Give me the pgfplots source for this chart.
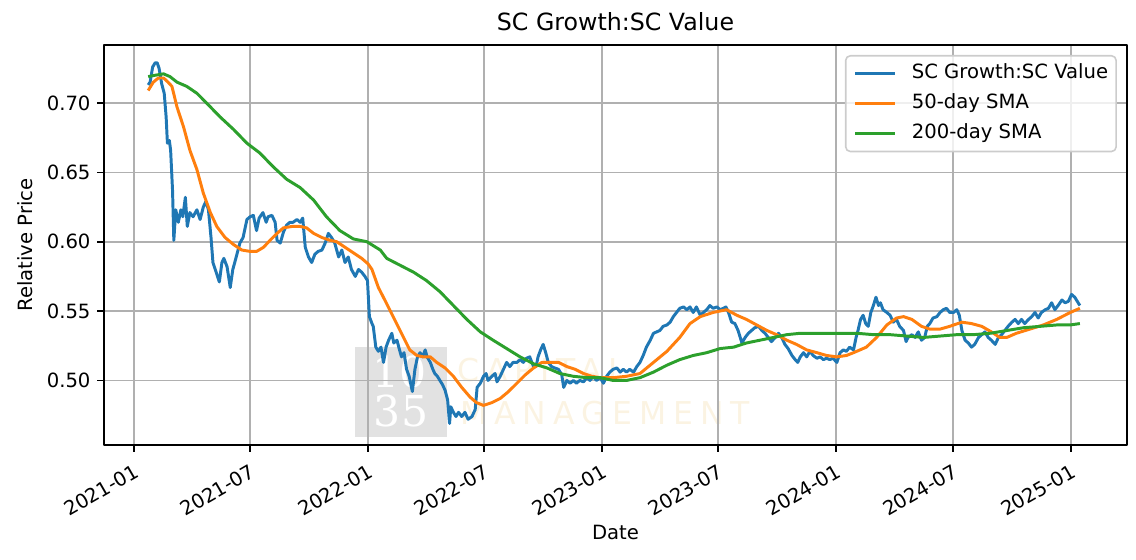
\documentclass[border=0pt]{standalone}
\usepackage{fontspec}
\setmainfont{DejaVu Sans}
\newfontfamily\wmserif{DejaVu Serif}
\usepackage{pgfplots}
\pgfplotsset{compat=1.18}
\usepackage{pgfplotstable}

\definecolor{mplblue}{HTML}{1F77B4}
\definecolor{mplorange}{HTML}{FF7F0E}
\definecolor{mplgreen}{HTML}{2CA02C}
\definecolor{gridgray}{HTML}{B0B0B0}
\definecolor{leggray}{HTML}{CCCCCC}
\definecolor{wmgray}{HTML}{E2E2E2}
\definecolor{wmbeige}{HTML}{FBF3E2}

% x = days since 2021-01-01
\pgfplotstableread{
x y
22 0.713
25 0.715
29 0.726
33 0.729
36 0.729
39 0.725
43 0.714
47 0.707
50 0.690
52 0.671
55 0.673
57 0.666
60 0.637
62 0.601
65 0.623
69 0.614
73 0.623
76 0.618
80 0.632
83 0.611
87 0.621
92 0.618
98 0.623
103 0.616
108 0.625
112 0.629
116 0.623
120 0.603
123 0.585
128 0.578
133 0.571
137 0.585
140 0.588
145 0.582
150 0.567
154 0.580
157 0.585
161 0.592
165 0.599
170 0.603
176 0.616
181 0.618
186 0.619
191 0.608
195 0.617
201 0.621
206 0.614
209 0.618
215 0.619
220 0.614
223 0.601
228 0.599
233 0.607
238 0.612
243 0.614
248 0.614
254 0.616
259 0.614
263 0.617
267 0.596
272 0.589
277 0.585
282 0.591
287 0.593
293 0.594
298 0.599
303 0.606
308 0.603
313 0.599
319 0.589
324 0.594
329 0.585
334 0.589
339 0.580
345 0.575
350 0.580
355 0.578
360 0.575
364 0.572
367 0.546
371 0.541
373 0.539
377 0.524
381 0.521
385 0.524
389 0.513
393 0.524
397 0.529
402 0.534
405 0.527
410 0.529
414 0.522
417 0.517
421 0.520
425 0.508
429 0.503
434 0.492
438 0.508
442 0.517
446 0.520
450 0.517
454 0.522
457 0.517
462 0.513
466 0.508
469 0.505
473 0.503
477 0.500
481 0.497
485 0.493
489 0.486
492 0.469
494 0.481
498 0.477
502 0.474
506 0.477
511 0.474
516 0.477
521 0.472
527 0.474
532 0.479
535 0.495
540 0.498
545 0.503
549 0.505
552 0.500
558 0.503
563 0.505
566 0.499
571 0.503
576 0.508
581 0.513
586 0.510
591 0.513
597 0.513
602 0.515
607 0.513
612 0.516
617 0.517
623 0.510
627 0.510
630 0.517
634 0.522
638 0.526
642 0.520
646 0.513
651 0.510
656 0.509
662 0.508
667 0.504
670 0.495
675 0.500
680 0.498
685 0.500
690 0.498
695 0.500
701 0.499
706 0.502
711 0.500
716 0.503
721 0.500
727 0.502
732 0.498
737 0.503
742 0.506
747 0.508
753 0.509
758 0.506
763 0.508
768 0.506
773 0.508
779 0.506
784 0.510
789 0.513
794 0.518
799 0.524
805 0.529
810 0.534
815 0.535
820 0.536
825 0.539
831 0.540
836 0.542
841 0.546
846 0.549
851 0.552
857 0.553
862 0.551
867 0.553
872 0.549
877 0.553
883 0.547
888 0.549
893 0.551
898 0.554
903 0.552
909 0.553
914 0.551
919 0.552
923 0.553
927 0.549
932 0.542
937 0.541
942 0.536
948 0.527
953 0.531
958 0.534
963 0.536
968 0.538
974 0.539
979 0.536
984 0.534
989 0.531
994 0.528
1000 0.531
1005 0.534
1010 0.531
1015 0.526
1020 0.523
1026 0.518
1031 0.515
1035 0.513
1039 0.517
1044 0.520
1049 0.517
1054 0.521
1059 0.518
1065 0.516
1070 0.517
1075 0.515
1080 0.516
1085 0.515
1090 0.516
1096 0.513
1101 0.520
1106 0.522
1111 0.521
1116 0.524
1122 0.522
1126 0.531
1129 0.536
1133 0.544
1137 0.547
1141 0.541
1145 0.539
1149 0.549
1153 0.554
1157 0.560
1161 0.554
1164 0.556
1168 0.551
1174 0.549
1179 0.547
1184 0.542
1189 0.544
1194 0.539
1200 0.536
1204 0.528
1207 0.531
1213 0.533
1218 0.531
1223 0.535
1228 0.529
1233 0.531
1237 0.539
1241 0.541
1246 0.545
1252 0.546
1257 0.549
1262 0.551
1267 0.552
1272 0.549
1278 0.549
1283 0.551
1287 0.547
1291 0.536
1296 0.529
1301 0.527
1306 0.524
1311 0.526
1317 0.531
1322 0.533
1327 0.535
1332 0.531
1337 0.529
1343 0.526
1348 0.531
1353 0.533
1358 0.536
1363 0.539
1369 0.542
1374 0.544
1379 0.541
1384 0.544
1389 0.541
1395 0.544
1400 0.546
1405 0.549
1410 0.545
1415 0.549
1421 0.551
1426 0.552
1431 0.556
1436 0.551
1441 0.554
1447 0.558
1452 0.556
1457 0.557
1462 0.562
1467 0.560
1471 0.557
1475 0.554
}\ratio

\pgfplotstableread{
x y
22 0.709
30 0.715
38 0.718
46 0.718
53 0.715
59 0.712
67 0.697
77 0.683
87 0.666
98 0.652
108 0.635
119 0.621
129 0.611
142 0.603
155 0.598
168 0.594
181 0.593
191 0.593
202 0.596
212 0.601
223 0.606
233 0.610
246 0.611
259 0.611
269 0.610
280 0.606
293 0.603
306 0.601
316 0.600
329 0.596
342 0.592
355 0.588
365 0.584
371 0.580
381 0.567
391 0.558
404 0.546
417 0.534
430 0.522
441 0.518
451 0.517
462 0.517
472 0.513
485 0.509
498 0.503
511 0.495
524 0.488
534 0.484
545 0.482
558 0.484
571 0.487
584 0.492
597 0.498
610 0.504
623 0.509
636 0.513
649 0.513
662 0.513
675 0.510
688 0.508
701 0.505
714 0.503
727 0.502
747 0.502
768 0.503
789 0.505
810 0.513
831 0.521
851 0.531
867 0.541
883 0.546
903 0.549
924 0.551
940 0.547
955 0.544
971 0.540
987 0.536
1002 0.533
1018 0.529
1033 0.526
1049 0.522
1065 0.520
1080 0.518
1096 0.517
1111 0.518
1122 0.520
1142 0.524
1158 0.531
1174 0.540
1189 0.545
1200 0.546
1213 0.544
1228 0.539
1241 0.537
1257 0.537
1272 0.539
1291 0.542
1306 0.541
1322 0.539
1337 0.535
1350 0.531
1361 0.531
1376 0.534
1397 0.537
1418 0.540
1439 0.544
1460 0.549
1475 0.552
}\smafifty

\pgfplotstableread{
x y
22 0.719
33 0.720
46 0.721
56 0.719
67 0.715
82 0.712
98 0.707
113 0.700
134 0.690
155 0.681
176 0.671
196 0.664
217 0.654
238 0.645
259 0.639
280 0.630
300 0.618
321 0.608
342 0.602
363 0.600
384 0.594
394 0.588
415 0.583
436 0.578
456 0.572
477 0.564
498 0.554
519 0.544
540 0.535
560 0.529
581 0.523
602 0.517
623 0.512
644 0.509
664 0.505
685 0.503
706 0.502
727 0.502
747 0.500
768 0.500
789 0.502
810 0.506
831 0.511
851 0.515
872 0.518
893 0.520
914 0.523
935 0.524
955 0.527
976 0.529
997 0.531
1018 0.533
1039 0.534
1059 0.534
1080 0.534
1101 0.534
1127 0.534
1153 0.533
1179 0.533
1205 0.532
1231 0.531
1257 0.532
1283 0.533
1309 0.533
1335 0.534
1361 0.536
1387 0.538
1413 0.539
1439 0.540
1460 0.540
1475 0.541
}\smatwohundred

\begin{document}
\begin{tikzpicture}
% watermark (behind the axis)
\fill[wmgray] (135.5pt,4.3pt) rectangle (185.2pt,52.9pt);
\node[text=white, inner sep=0pt, font=\wmserif\fontsize{23}{23}\selectfont] at (159.8pt,39.4pt) {10};
\node[text=white, inner sep=0pt, font=\wmserif\fontsize{23}{23}\selectfont] at (160.4pt,18.4pt) {35};
\node[anchor=west, inner sep=0pt, text=wmbeige, font=\fontsize{17}{17}\selectfont\addfontfeature{LetterSpace=22}] at (190.6pt,40.5pt) {CAPITAL};
\node[anchor=west, inner sep=0pt, text=wmbeige, font=\fontsize{17}{17}\selectfont\addfontfeature{LetterSpace=22}] at (192.2pt,17.3pt) {MANAGEMENT};

\begin{axis}[
  at={(0pt,0pt)}, anchor=south west,
  width=552.4pt, height=216pt, scale only axis,
  xmin=-46.8, xmax=1548.4, ymin=0.4535, ymax=0.7418,
  xtick={0,181,365,546,730,911,1095,1277,1461},
  xticklabels={2021-01,2021-07,2022-01,2022-07,2023-01,2023-07,2024-01,2024-07,2025-01},
  xticklabel style={rotate=30, anchor=north east, font=\fontsize{10.6}{12.7}\selectfont, yshift=-1.5pt},
  ytick={0.50,0.55,0.60,0.65,0.70},
  scaled y ticks=false,
  yticklabel style={/pgf/number format/fixed, /pgf/number format/fixed zerofill, /pgf/number format/precision=2, font=\fontsize{10.6}{12.7}\selectfont},
  /pgf/number format/assume math mode=true,
  tick align=outside, tick pos=left, major tick length=3.8pt,
  tick style={black, line width=0.86pt},
  axis line style={black, line width=0.86pt},
  grid=major, major grid style={color=gridgray, line width=0.86pt},
  title={SC Growth:SC Value},
  title style={font=\fontsize{12.8}{15}\selectfont, yshift=-1.8pt},
  xlabel={Date}, ylabel={Relative Price},
  label style={font=\fontsize{10.6}{12.7}\selectfont},
  xlabel style={at={(axis description cs:0.5,-0.22)}, anchor=center},
  ylabel style={at={(axis description cs:-0.0772,0.5)}, anchor=center},
  legend cell align=left,
  legend style={at={(1,1)}, anchor=north east, xshift=-5.4pt, yshift=-5.4pt,
    draw=leggray, line width=0.86pt, rounded corners=2.5pt, fill=white, fill opacity=0.8, text opacity=1,
    inner xsep=4.3pt, inner ysep=4.4pt, row sep=5.7pt, column sep=8.5pt,
    nodes={inner sep=0pt, text height=8pt, text depth=2.5pt},
    font=\fontsize{10.6}{12.7}\selectfont},
  legend image code/.code={\draw[#1, line width=1.6pt] (0pt,0pt) -- (21.3pt,0pt);},
  line join=round,
]
\addplot[mplblue, line width=1.6pt] table[x=x, y=y] {\ratio};
\addlegendentry{SC Growth:SC Value}
\addplot[mplorange, line width=1.6pt] table[x=x, y=y] {\smafifty};
\addlegendentry{50-day SMA}
\addplot[mplgreen, line width=1.6pt] table[x=x, y=y] {\smatwohundred};
\addlegendentry{200-day SMA}
\end{axis}
\pgfresetboundingbox
\path[use as bounding box] (-56.2pt,-62.1pt) rectangle (557.3pt,240.3pt);
\end{tikzpicture}
\end{document}
